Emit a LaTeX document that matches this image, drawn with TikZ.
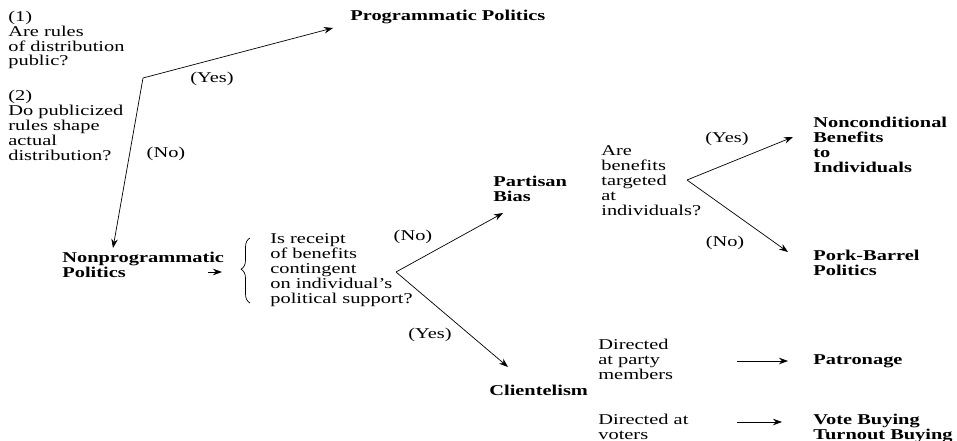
\documentclass[tikz,border=0pt]{standalone}
\usepackage{fontspec}
\setmainfont{Liberation Serif}[FakeStretch=1.36]
\usetikzlibrary{arrows.meta,decorations.pathreplacing}
\begin{document}
\begin{tikzpicture}[x=1pt, y=-1pt, line width=.7pt, line join=round, >={Stealth[length=9pt,width=6.5pt]},
	every node/.style={inner sep=0pt, align=left, anchor=base west, font=\fontsize{15}{14.8}\selectfont},
	lbl/.style={anchor=center},
	res/.style={font=\fontsize{15}{14.8}\selectfont\bfseries}]
	\useasboundingbox (0,0) rectangle (957,441);
	% questions about rules (nodes sit on the baseline of their last line)
	\node (q1) at (8,66) {(1)\\Are rules\\of distribution\\public?};
	\node (q2) at (8,160) {(2)\\Do publicized\\rules shape\\actual\\distribution?};
	\node[res] (prog) at (350,21) {Programmatic Politics};
	\node[res] (nonprog) at (62,277) {Nonprogrammatic\\Politics};
	\coordinate (fork1) at (143,78);
	\draw[->] (fork1) -- ([shift={(-17,7)}]prog.base west);
	\draw[->] (fork1) -- ([shift={(51,-29)}]nonprog.base west);
	\node[lbl] (yes1) at (212,79) {(Yes)};
	\node[lbl] (no1) at (166,154) {(No)};
	% contingent?
	\coordinate (bracetip) at (232,272);
	\draw[decorate, decoration={brace, amplitude=9pt, aspect=.52}] (250,303) -- (250,238);
	\draw[->] ([xshift=-24pt]bracetip) -- ([xshift=-10pt]bracetip);
	\node (q3) at (270,303) {Is receipt\\of benefits\\contingent\\on individual’s\\political support?};
	\coordinate (fork2) at (396,272);
	\node[res] (partisan) at (493,201) {Partisan\\Bias};
	\node[res] (client) at (489,395) {Clientelism};
	\draw[->] (fork2) -- ([shift={(10,12)}]partisan.base west);
	\draw[->] (fork2) -- ([shift={(19,-28)}]client.base west);
	\node[lbl] (no2) at (413,237) {(No)};
	\node[lbl] (yes2) at (430,335) {(Yes)};
	% targeted?
	\node (q4) at (601,215) {Are\\benefits\\targeted\\at\\individuals?};
	\coordinate (fork3) at (687,180);
	\node[res] (noncond) at (813,172) {Nonconditional\\Benefits\\to\\Individuals};
	\node[res] (pork) at (813,275) {Pork-Barrel\\Politics};
	\draw[->] (fork3) -- ([shift={(-20,-35)}]noncond.base west);
	\draw[->] (fork3) -- ([shift={(-25,-23)}]pork.base west);
	\node[lbl] (yes3) at (727,139) {(Yes)};
	\node[lbl] (no3) at (725,243) {(No)};
	% clientelism
	\node (party) at (598,379) {Directed\\at party\\members};
	\node (voters) at (598,439) {Directed at\\voters};
	\node[res] (patron) at (813,364) {Patronage};
	\node[res] (vote) at (813,439) {Vote Buying\\Turnout Buying};
	\draw[->] ([shift={(-76,-3)}]patron.base west) -- ([shift={(-25,-3)}]patron.base west);
	\draw[->] ([shift={(-76,-17)}]vote.base west) -- ([shift={(-31,-17)}]vote.base west);
\end{tikzpicture}
\end{document}
